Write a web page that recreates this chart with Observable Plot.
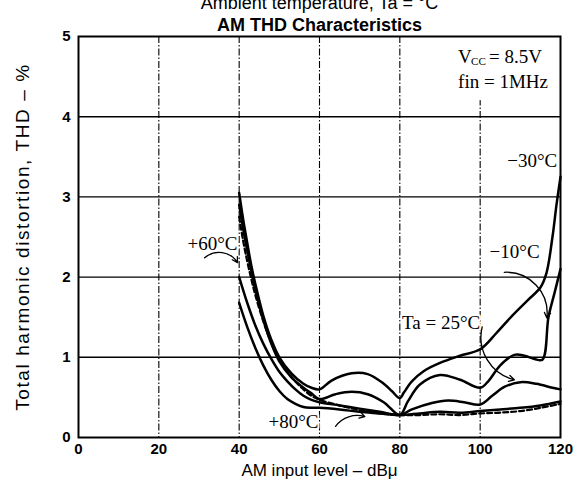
<!DOCTYPE html>
<html><head><meta charset="utf-8">
<script src="https://cdn.jsdelivr.net/npm/d3@7"></script>
<script src="https://cdn.jsdelivr.net/npm/@observablehq/plot@0.6"></script>
<style>body{margin:0;background:#fff}svg{display:block}</style>
</head><body><div id="chart"></div>
<script>
// Series: Ta = -30°C
const xM30 = [40,41,42,43,44,46,48,50,53,56,58,60,63,68,72,76,78,80,81,83,86,90,95,100,104,108,112,115,116.5,118,119,120];
const yM30 = [3.05,2.72,2.43,2.15,1.92,1.52,1.22,1.0,0.8,0.67,0.62,0.6,0.71,0.8,0.79,0.67,0.58,0.49,0.56,0.7,0.83,0.93,1.02,1.1,1.3,1.52,1.72,1.87,2.05,2.5,2.9,3.25];
// Ta = -10°C
const xM10 = [40,41,42,43,44,46,48,50,53,56,58,60,64,68,72,76,80,82,85,90,95,100,102,105,108.5,111,113.5,115.5,117,118.5,120];
const yM10 = [2.9,2.6,2.33,2.08,1.85,1.47,1.17,0.95,0.75,0.62,0.55,0.48,0.54,0.57,0.54,0.44,0.28,0.45,0.66,0.78,0.72,0.62,0.7,0.9,1.03,1.02,0.98,0.97,1.5,1.8,2.1];
// Ta = 25°C
const x25 = [40,42,44,46,48,50,52,54,56,58,60,65,70,75,80,83,88,92,96,100,103,106,110,114,118,120];
const y25 = [2.0,1.68,1.4,1.17,0.98,0.82,0.7,0.6,0.52,0.47,0.44,0.4,0.36,0.32,0.28,0.35,0.43,0.46,0.44,0.41,0.52,0.63,0.69,0.67,0.62,0.6];
// Ta = +60°C (dashed)
const xP60 = [40,41,42,43,44,46,48,50,52,54,56,58,60,65,70,75,80,85,90,95,100,105,110,115,120];
const yP60 = [2.75,2.45,2.2,1.98,1.78,1.45,1.18,0.97,0.82,0.7,0.6,0.52,0.47,0.4,0.34,0.3,0.28,0.28,0.29,0.28,0.3,0.31,0.33,0.37,0.42];
// Ta = +80°C
const xP80 = [40,42,44,46,48,50,52,54,56,58,60,65,70,75,80,85,90,95,100,105,110,115,120];
const yP80 = [1.68,1.38,1.12,0.9,0.72,0.58,0.48,0.42,0.38,0.37,0.37,0.35,0.32,0.3,0.28,0.3,0.32,0.31,0.33,0.35,0.37,0.4,0.45];

const xTicks = [0,20,40,60,80,100,120];
const yTicks = [0,1,2,3,4,5];
const xGrid = [20,40,60,80,100];

const titleLines = ["Ambient temperature, Ta = °C", "AM THD Characteristics"];
const xTitle = "AM input level – dBμ";
const yTitle = "Total harmonic distortion, THD – %";

// annotation labels (data coordinates)
const labels = [
  {x:119.2, y:3.45, text:"−30°C"},
  {x:114.8, y:2.32, text:"−10°C"},
  {x:100, y:1.43, text:"Ta = 25°C"},
  {x:39.6, y:2.42, text:"+60°C"}
];
const labelsStart = [
  {x:47.3, y:0.2, text:"+80°C"},
  {x:94.5, y:4.44, text:"fin = 1MHz"}
];
const noteBox = [{x1:93.5, x2:120, y1:4.2, y2:5}];
const arrowP60 = [{x1:31.4, y1:2.24, x2:39.6, y2:2.18}];
const arrowP80 = [{x1:64, y1:0.14, x2:71.3, y2:0.26}];
const arrowM10 = [{x1:106, y1:2.06, x2:116.6, y2:1.49}];
const arrow25 = [{x1:100.5, y1:1.38, x2:108.5, y2:0.72}];

function rows(xs, ys, name){ return xs.map((x,i)=>({x, y: ys[i], series: name})); }
const solid = [...rows(xM30,yM30,"-30"), ...rows(xM10,yM10,"-10"), ...rows(x25,y25,"25"), ...rows(xP80,yP80,"+80")];
const dashed = rows(xP60,yP60,"+60");

const serif = "Liberation Serif";
const halo = {stroke:"white", strokeWidth:4, fill:"black"};
const arrowStyle = {x1:"x1", y1:"y1", x2:"x2", y2:"y2", stroke:"black", strokeWidth:1.3, headLength:7};

const chart = Plot.plot({
  width: 574, height: 486,
  marginTop: 36, marginLeft: 78, marginRight: 14, marginBottom: 49,
  style: {fontFamily: "Liberation Sans", background: "white"},
  x: {domain: [0,120]},
  y: {domain: [0,5]},
  marks: [
    Plot.ruleY(yTicks.slice(1,5), {stroke:"black", strokeWidth:1.4}),
    Plot.ruleX(xGrid, {stroke:"black", strokeWidth:1.1, strokeDasharray:"7,2,1.5,2"}),
    Plot.rect(noteBox, {x1:"x1", x2:"x2", y1:"y1", y2:"y2", fill:"white"}),
    Plot.frame({stroke:"black", strokeWidth:2}),
    Plot.line(solid, {x:"x", y:"y", z:"series", curve:"catmull-rom", stroke:"black", strokeWidth:2.5}),
    Plot.line(dashed, {x:"x", y:"y", z:"series", curve:"catmull-rom", stroke:"black", strokeWidth:2.2, strokeDasharray:"5,3"}),
    Plot.text(labels, {x:"x", y:"y", text:"text", textAnchor:"end", fontFamily:serif, fontSize:19, ...halo}),
    Plot.text(labelsStart, {x:"x", y:"y", text:"text", textAnchor:"start", fontFamily:serif, fontSize:19, ...halo}),
    Plot.text(["V"], {x:()=>94.5, y:()=>4.74, textAnchor:"start", fontFamily:serif, fontSize:19}),
    Plot.text(["CC"], {x:()=>94.5, y:()=>4.74, dx:13, dy:4, textAnchor:"start", fontFamily:serif, fontSize:11}),
    Plot.text(["= 8.5V"], {x:()=>94.5, y:()=>4.74, dx:31, textAnchor:"start", fontFamily:serif, fontSize:19}),
    Plot.arrow(arrowP60, {...arrowStyle, bend:50}),
    Plot.arrow(arrowP80, {...arrowStyle, bend:35}),
    Plot.arrow(arrowM10, {...arrowStyle, bend:50}),
    Plot.arrow(arrow25, {...arrowStyle, bend:-45}),
    Plot.axisX(xTicks, {tickSize:0, tickPadding:6, fontWeight:"bold", fontSize:15, label:null, tickFormat:d=>String(d)}),
    Plot.axisY(yTicks, {tickSize:0, tickPadding:8, fontWeight:"bold", fontSize:15, label:null, tickFormat:d=>String(d)}),
    Plot.text([titleLines[0]], {frameAnchor:"top", dy:-40, fontSize:18}),
    Plot.text([titleLines[1]], {frameAnchor:"top", dy:-18, fontSize:18, fontWeight:"bold"}),
    Plot.text([xTitle], {frameAnchor:"bottom", dy:38, fontSize:17}),
    Plot.text([yTitle], {frameAnchor:"left", dx:-56, rotate:-90, textAnchor:"middle", fontSize:19})
  ]
});
d3.select(chart).selectAll("text").filter(function(){ return this.textContent === yTitle; }).style("letter-spacing", "1.6px");
document.getElementById("chart").appendChild(chart);
</script></body></html>
